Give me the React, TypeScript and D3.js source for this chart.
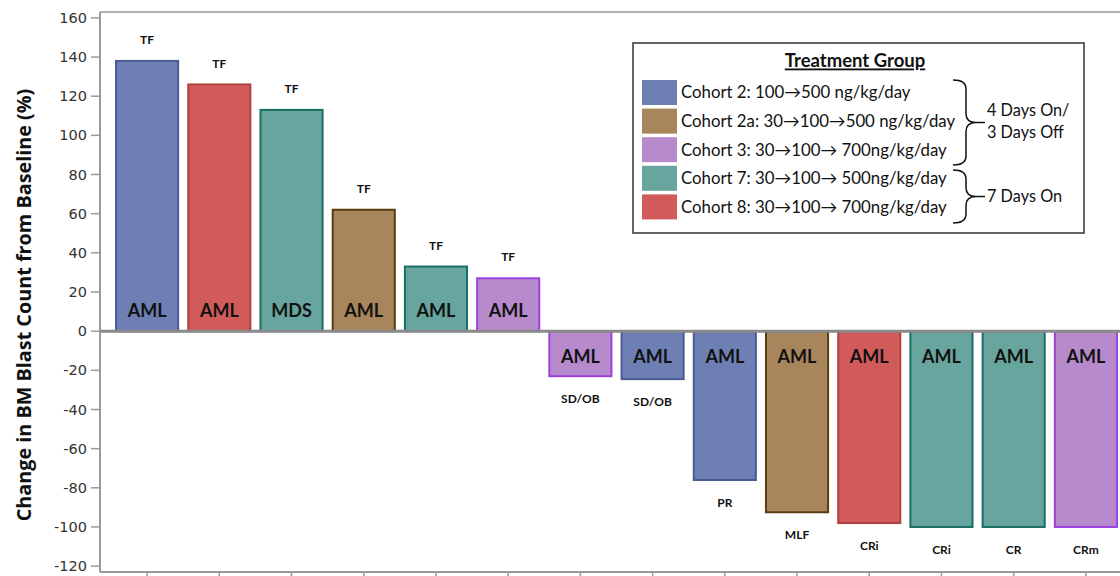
import React from 'react';
import * as d3 from 'd3';

const patients = ['P1', 'P2', 'P3', 'P4', 'P5', 'P6', 'P7', 'P8', 'P9', 'P10', 'P11', 'P12', 'P13', 'P14'];
const blastChange = [138, 126, 113, 62, 33, 27, -23, -24.5, -76, -92.5, -98, -100, -100, -100];
const cohortOf = ['2', '8', '7', '2a', '7', '3', '3', '2', '2', '2a', '8', '7', '7', '3'];
const diagnosis = ['AML', 'AML', 'MDS', 'AML', 'AML', 'AML', 'AML', 'AML', 'AML', 'AML', 'AML', 'AML', 'AML', 'AML'];
const response = ['TF', 'TF', 'TF', 'TF', 'TF', 'TF', 'SD/OB', 'SD/OB', 'PR', 'MLF', 'CRi', 'CRi', 'CR', 'CRm'];

const cohortKeys = ['2', '2a', '3', '7', '8'];
const cohortLabels = [
  'Cohort 2: 100\u2192500 ng/kg/day',
  'Cohort 2a: 30\u2192100\u2192500 ng/kg/day',
  'Cohort 3: 30\u2192100\u2192 700ng/kg/day',
  'Cohort 7: 30\u2192100\u2192 500ng/kg/day',
  'Cohort 8: 30\u2192100\u2192 700ng/kg/day',
];
const cohortFill = ['#6E7FB3', '#A8865B', '#B68ACB', '#67A59E', '#D15B5B'];
const cohortStroke = ['#4A5B94', '#5B3B12', '#9C40E0', '#1A6E66', '#B0413F'];
const scheduleLabels = [['4 Days On/', '3 Days Off'], ['7 Days On']];
const yTicks = [-120, -100, -80, -60, -40, -20, 0, 20, 40, 60, 80, 100, 120, 140, 160];

const W = 1120;
const H = 576;

function bracePath(x0: number, y0: number, y1: number, depth: number, tipLen: number) {
  const xm = x0 + depth;
  const ym = (y0 + y1) / 2;
  const r = 9;
  const tip = xm + tipLen;
  return `M${x0},${y0} Q${xm},${y0} ${xm},${y0 + r} L${xm},${ym - r} Q${xm},${ym} ${tip},${ym} Q${xm},${ym} ${xm},${ym + r} L${xm},${y1 - r} Q${xm},${y1} ${x0},${y1}`;
}

export default function App() {
  const x = d3.scaleBand<string>().domain(patients).range([111, 1122]).paddingInner(0.14).paddingOuter(0.07);
  const y = d3.scaleLinear().domain([-123, 163]).range([572, 12]);
  const colorFill = d3.scaleOrdinal<string, string>().domain(cohortKeys).range(cohortFill);
  const colorStroke = d3.scaleOrdinal<string, string>().domain(cohortKeys).range(cohortStroke);
  const calibri = "Lato, 'Open Sans', sans-serif";
  const tickFont = "'DejaVu Sans', Verdana, sans-serif";

  const lgX = 633, lgY = 43, lgW = 451, lgH = 190;
  const rowY = (i: number) => 80 + i * 28.6;

  return (
    <svg width={W} height={H} style={{ position: 'absolute', left: 0, top: 0, background: '#fff' }}>
      {/* frame */}
      <line x1={100} x2={W} y1={12} y2={12} stroke="#999" strokeWidth={1.5} />
      <line x1={100} x2={100} y1={12} y2={572} stroke="#999" strokeWidth={2} />
      <line x1={100} x2={W} y1={572} y2={572} stroke="#999" strokeWidth={2} />
      {yTicks.map((t) => (
        <g key={t}>
          <line x1={91} x2={100} y1={y(t)} y2={y(t)} stroke="#999" strokeWidth={1.5} />
          <text x={87} y={y(t)} dy="0.35em" textAnchor="end" fontFamily={tickFont} fontSize={14.5} fill="#333">
            {t}
          </text>
        </g>
      ))}
      {patients.map((p) => (
        <line key={p} x1={x(p)! + x.bandwidth() / 2} x2={x(p)! + x.bandwidth() / 2} y1={572} y2={577} stroke="#999" strokeWidth={1.5} />
      ))}
      <text
        transform={`translate(31,${305}) rotate(-90)`}
        textAnchor="middle"
        fontFamily="'Open Sans', sans-serif"
        fontWeight="bold"
        fontSize={19.8}
        fill="#111"
      >
        Change in BM Blast Count from Baseline (%)
      </text>

      {/* bars */}
      {patients.map((p, i) => {
        const v = blastChange[i];
        const x0 = x(p)!;
        const bw = x.bandwidth();
        const top = y(Math.max(0, v));
        const bot = y(Math.min(0, v));
        const cx = x0 + bw / 2;
        return (
          <g key={p}>
            <rect x={x0} y={top} width={bw} height={bot - top} fill={colorFill(cohortOf[i])} stroke={colorStroke(cohortOf[i])} strokeWidth={2} />
            <text x={cx} y={v >= 0 ? y(0) - 20 : y(0) + 26} dy="0.35em" textAnchor="middle" fontFamily={calibri} fontWeight="bold" fontSize={18} fill="#111">
              {diagnosis[i]}
            </text>
            <text x={cx} y={v >= 0 ? y(v) - 21 : y(v) + 23} dy="0.35em" textAnchor="middle" fontFamily={calibri} fontWeight="bold" fontSize={12} fill="#111">
              {response[i]}
            </text>
          </g>
        );
      })}
      <line x1={100} x2={W} y1={y(0)} y2={y(0)} stroke="#8a8a8a" strokeWidth={3} />

      {/* legend */}
      <rect x={lgX} y={lgY} width={lgW} height={lgH} fill="#fff" stroke="#333" strokeWidth={1.5} />
      <text x={855} y={61} dy="0.35em" textAnchor="middle" fontFamily={calibri} fontWeight="bold" fontSize={18.5} fill="#111" textDecoration="underline">
        Treatment Group
      </text>
      {cohortKeys.map((k, i) => (
        <g key={k}>
          <rect x={642} y={rowY(i)} width={35} height={25} fill={cohortFill[i]} />
          <text x={681} y={rowY(i) + 12.5} dy="0.35em" fontFamily={calibri} fontSize={16.8} fill="#111">
            {cohortLabels[i]}
          </text>
        </g>
      ))}
      <path d={bracePath(953, 80, 165, 13, 10)} fill="none" stroke="#111" strokeWidth={1.5} />
      <line x1={976} x2={985} y1={122.5} y2={122.5} stroke="#111" strokeWidth={1.5} />
      <path d={bracePath(953, 170, 223, 13, 10)} fill="none" stroke="#111" strokeWidth={1.5} />
      <line x1={976} x2={985} y1={196.5} y2={196.5} stroke="#111" strokeWidth={1.5} />
      {scheduleLabels[0].map((s, j) => (
        <text key={s} x={987} y={110 + j * 22.5} dy="0.35em" fontFamily={calibri} fontSize={16.3} fill="#111">
          {s}
        </text>
      ))}
      <text x={987} y={196} dy="0.35em" fontFamily={calibri} fontSize={16.3} fill="#111">
        {scheduleLabels[1][0]}
      </text>
    </svg>
  );
}
